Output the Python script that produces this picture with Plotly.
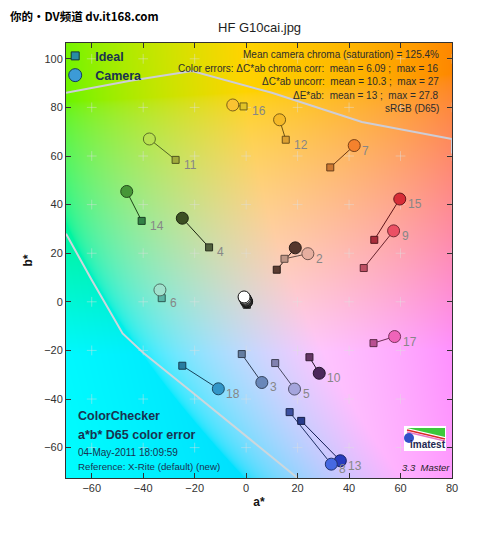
import numpy as np
import zlib, struct, base64
import plotly.graph_objects as go

# ---------------- data ----------------
patch_ids = list(range(1, 25))
ideal_a = [11.9, 14.9, -1.7, -14.4, 11.3, -32.8, 32.7, 16.9, 45.7, 24.6, -27.4, 15.4,
           21.4, -40.6, 49.8, -1.0, 49.5, -24.8, 0.0, 0.0, 0.1, 0.2, 0.2, 0.3]
ideal_b = [13.2, 17.7, -21.5, 22.4, -25.2, 1.5, 55.3, -45.4, 13.9, -22.8, 58.4, 66.7,
           -49.0, 33.3, 25.5, 80.4, -17.0, -26.3, -0.3, -0.5, -0.7, -0.9, -1.0, -1.2]
camera_a = [19.1, 24.0, 6.1, -24.8, 18.8, -33.5, 42.0, 33.1, 57.3, 28.4, -37.6, 13.0,
            36.6, -46.4, 59.7, -5.2, 57.7, -10.8, -0.8, -0.5, -0.3, -0.1, 0.1, 0.2]
camera_b = [22.2, 19.8, -33.2, 34.4, -35.9, 4.9, 64.3, -66.8, 29.2, -29.4, 67.0, 74.9,
            -65.4, 45.4, 42.3, 81.0, -14.3, -35.8, 2.0, 1.5, 1.1, 0.7, 0.3, 0.0]
ideal_rgb = [(90, 60, 50), (190, 150, 135), (100, 125, 160), (80, 95, 60), (130, 130, 175),
             (90, 180, 165), (205, 120, 50), (60, 80, 160), (190, 80, 100), (100, 55, 100),
             (160, 170, 60), (220, 160, 50), (40, 60, 140), (50, 130, 70), (170, 45, 60),
             (225, 195, 40), (185, 80, 145), (40, 125, 160), (245, 245, 245), (200, 200, 200),
             (160, 160, 160), (120, 120, 120), (85, 85, 85), (50, 50, 50)]
camera_rgb = [(85, 55, 45), (230, 175, 160), (105, 135, 185), (60, 80, 35), (165, 165, 220),
              (160, 225, 205), (245, 130, 45), (70, 105, 225), (235, 80, 100), (75, 40, 90),
              (185, 225, 80), (245, 185, 40), (40, 60, 190), (70, 150, 55), (215, 45, 55),
              (250, 195, 50), (240, 100, 185), (50, 150, 200), (255, 255, 255), (215, 215, 215),
              (170, 170, 170), (120, 120, 120), (80, 80, 80), (40, 40, 40)]
labeled_patches = list(range(2, 19))

# sRGB gamut boundary lines (a*, b*)
gamut_upper_a = [-70, -45, -21, 10, 45, 80, 80]
gamut_upper_b = [86, 91, 95, 86, 74, 67, 61]
gamut_lower_a = [-70, -60, -48, -40, -20, -5, 20]
gamut_lower_b = [28, 9, -13, -21, -38, -51, -72.5]

x_ticks = [-60, -40, -20, 0, 20, 40, 60, 80]
y_ticks = [-60, -40, -20, 0, 20, 40, 60, 80, 100]
x_range = [-70, 80]
y_range = [-72.5, 106.5]

stats_lines = ["Mean camera chroma (saturation) = 125.4%",
               "Color errors: \u0394C*ab chroma corr:  mean = 6.09 ;  max = 16",
               "\u0394C*ab uncorr:  mean = 10.3 ;  max = 27",
               "\u0394E*ab:  mean = 13 ;  max = 27.8",
               "sRGB (D65)"]
info_lines = ["<b>ColorChecker</b>", "<b>a*b* D65 color error</b>",
              "04-May-2011 18:09:59", "Reference: X-Rite (default) (new)"]

# ---------------- background (Lab -> sRGB at fixed L) ----------------
W, H = 386, 435
L = 86.0
aa = x_range[0] + (np.arange(W) + 0.5) * (x_range[1] - x_range[0]) / W
bb = y_range[1] - (np.arange(H) + 0.5) * (y_range[1] - y_range[0]) / H
A, B = np.meshgrid(aa, bb)
fy = (L + 16) / 116.0
fx = fy + A / 500.0
fz = fy - B / 200.0
def finv(t):
    d = 6 / 29
    return np.where(t > d, t ** 3, 3 * d * d * (t - 4 / 29))
X = 0.95047 * finv(fx)
Y = np.ones_like(A) * finv(np.array(fy))
Z = 1.08883 * finv(fz)
R = 3.2406 * X - 1.5372 * Y - 0.4986 * Z
G = -0.9689 * X + 1.8758 * Y + 0.0415 * Z
Bl = 0.0557 * X - 0.2040 * Y + 1.0570 * Z
rgb = np.clip(np.stack([R, G, Bl], axis=-1), 0, 1)
rgb = np.where(rgb <= 0.0031308, 12.92 * rgb, 1.055 * rgb ** (1 / 2.4) - 0.055)
img = (np.clip(rgb, 0, 1) * 255).astype(np.uint8)

def png_uri(arr):
    h, w, _ = arr.shape
    raw = b"".join(b"\x00" + arr[r].tobytes() for r in range(h))
    def chunk(t, d):
        return struct.pack(">I", len(d)) + t + d + struct.pack(">I", zlib.crc32(t + d) & 0xffffffff)
    png = (b"\x89PNG\r\n\x1a\n" + chunk(b"IHDR", struct.pack(">IIBBBBB", w, h, 8, 2, 0, 0, 0))
           + chunk(b"IDAT", zlib.compress(raw, 9)) + chunk(b"IEND", b""))
    return "data:image/png;base64," + base64.b64encode(png).decode()

def css(c, k=1.0):
    return "rgb(%d,%d,%d)" % tuple(int(v * k) for v in c)

fig = go.Figure()

# gamut boundary
fig.add_trace(go.Scatter(x=gamut_upper_a, y=gamut_upper_b, mode="lines",
                         line=dict(color="rgb(205,205,215)", width=2), showlegend=False, hoverinfo="skip"))
fig.add_trace(go.Scatter(x=gamut_lower_a, y=gamut_lower_b, mode="lines",
                         line=dict(color="rgb(205,215,220)", width=2), showlegend=False, hoverinfo="skip"))

# grid crosses
gx = [x for x in x_ticks for y in y_ticks]
gy = [y for x in x_ticks for y in y_ticks]
fig.add_trace(go.Scatter(x=gx, y=gy, mode="markers",
                         marker=dict(symbol="cross-thin", size=7,
                                     line=dict(color="rgba(225,225,225,0.45)", width=1)),
                         showlegend=False, hoverinfo="skip"))

# connecting lines
for i in range(18):
    fig.add_trace(go.Scatter(x=[ideal_a[i], camera_a[i]], y=[ideal_b[i], camera_b[i]],
                             mode="lines", line=dict(color=css(camera_rgb[i], 0.45), width=1),
                             showlegend=False, hoverinfo="skip"))

order = list(range(23, -1, -1))
fig.add_trace(go.Scatter(x=[ideal_a[i] for i in order], y=[ideal_b[i] for i in order], mode="markers",
                         marker=dict(symbol="square", size=7,
                                     color=[css(ideal_rgb[i]) for i in order],
                                     line=dict(color=[css(ideal_rgb[i], 0.5) for i in order], width=1)),
                         showlegend=False))
fig.add_trace(go.Scatter(x=[camera_a[i] for i in order], y=[camera_b[i] for i in order], mode="markers",
                         marker=dict(symbol="circle", size=12,
                                     color=[css(camera_rgb[i]) for i in order],
                                     line=dict(color=[css(camera_rgb[i], 0.5) if i < 18 else "rgb(20,20,20)"
                                                      for i in order], width=1)),
                         showlegend=False))

# legend entries
fig.add_trace(go.Scatter(x=[None], y=[None], mode="markers", name="<b>Ideal</b>",
                         marker=dict(symbol="square", size=8, color="rgb(40,140,165)",
                                     line=dict(color="rgb(20,50,60)", width=1))))
fig.add_trace(go.Scatter(x=[None], y=[None], mode="markers", name="<b>Camera</b>",
                         marker=dict(symbol="circle", size=13, color="rgb(60,155,215)",
                                     line=dict(color="rgb(20,60,90)", width=1))))

# patch labels
for p in labeled_patches:
    i = p - 1
    if camera_a[i] >= ideal_a[i]:
        lx, ly = camera_a[i], camera_b[i]
    else:
        lx, ly = ideal_a[i], ideal_b[i]
    fig.add_annotation(x=lx, y=ly, text=str(p), showarrow=False, xanchor="left", yanchor="middle",
                       xshift=6, yshift=-5, font=dict(size=12, color="rgb(135,135,135)",
                                                      family="Liberation Sans, Arial"))

FONT = "Liberation Sans, Arial"
# screen-pixel helpers (plot area on screen spans x 66..452, y 43..478)
def px(xp): return (xp - 66) / 386
def py(yp): return (478 - yp) / 435

# stats text
stat_y = [54, 68, 82, 95, 109]
for t, yy in zip(stats_lines, stat_y):
    fig.add_annotation(xref="paper", yref="paper", x=px(441), y=py(yy), text=t, showarrow=False,
                       xanchor="right", yanchor="middle",
                       font=dict(size=10, color="rgb(45,45,45)", family=FONT))

# info text
info_y = [416, 435, 452, 466]
info_size = [12.5, 12.5, 10, 9.7]
for t, yy, s in zip(info_lines, info_y, info_size):
    fig.add_annotation(xref="paper", yref="paper", x=px(76), y=py(yy), text=t, showarrow=False,
                       xanchor="left", yanchor="middle",
                       font=dict(size=s, color="rgb(25,50,80)", family=FONT))

# imatest logo (decoration)
shapes = [dict(type="rect", xref="paper", yref="paper", x0=px(404), x1=px(446), y0=py(451), y1=py(426),
               fillcolor="white", line=dict(width=0), layer="above")]
shapes.append(dict(type="path", xref="paper", yref="paper",
                   path="M %f,%f L %f,%f L %f,%f Z" % (px(407), py(428), px(445), py(428), px(445), py(437)),
                   fillcolor="rgb(60,200,60)", line=dict(width=0), layer="above"))
shapes.append(dict(type="line", xref="paper", yref="paper", x0=px(407), y0=py(430), x1=px(445), y1=py(439),
                   line=dict(color="rgb(220,40,40)", width=1.5), layer="above"))
shapes.append(dict(type="line", xref="paper", yref="paper", x0=px(407), y0=py(432), x1=px(445), y1=py(441),
                   line=dict(color="rgb(230,120,200)", width=1.5), layer="above"))
shapes.append(dict(type="circle", xref="paper", yref="paper", x0=px(404), x1=px(414), y0=py(443), y1=py(433),
                   fillcolor="rgb(50,80,200)", line=dict(width=0), layer="above"))
# zero dotted lines
shapes.append(dict(type="line", xref="x", yref="paper", x0=0, x1=0, y0=0, y1=1,
                   line=dict(color="rgba(130,130,130,0.8)", width=1, dash="dot"), layer="below"))
shapes.append(dict(type="line", xref="paper", yref="y", x0=0, x1=1, y0=0, y1=0,
                   line=dict(color="rgba(130,130,130,0.8)", width=1, dash="dot"), layer="below"))

fig.add_annotation(xref="paper", yref="paper", x=px(428), y=py(444), text="<b>imatest</b>", showarrow=False,
                   xanchor="center", yanchor="middle", font=dict(size=10, color="rgb(30,40,80)", family=FONT))
fig.add_annotation(xref="paper", yref="paper", x=px(426), y=py(467), text="<i>3.3  Master</i>", showarrow=False,
                   xanchor="center", yanchor="middle", font=dict(size=9.5, color="rgb(30,30,40)", family=FONT))

# title and watermark
fig.add_annotation(xref="paper", yref="paper", x=px(259), y=py(27), text="HF G10cai.jpg", showarrow=False,
                   xanchor="center", yanchor="middle", font=dict(size=13, color="rgb(30,30,30)", family=FONT))
fig.add_annotation(xref="paper", yref="paper", x=px(8), y=py(16), text="<b>你的·DV频道 dv.it168.com</b>",
                   showarrow=False, xanchor="left", yanchor="middle",
                   font=dict(size=11.5, color="black", family="Noto Sans CJK SC"))

# page body has an 8px margin: figure origin sits at screen (8, 8)
fig.update_layout(
    width=500, height=538,
    margin=dict(l=58, r=56, t=35, b=68, autoexpand=False),
    paper_bgcolor="white", plot_bgcolor="rgba(0,0,0,0)",
    images=[dict(source=png_uri(img), xref="x", yref="y", x=x_range[0], y=y_range[1],
                 sizex=x_range[1] - x_range[0], sizey=y_range[1] - y_range[0],
                 sizing="stretch", layer="below")],
    shapes=shapes,
    showlegend=True,
    legend=dict(x=-0.028, y=1.004, xanchor="left", yanchor="top", bgcolor="rgba(0,0,0,0)",
                font=dict(size=12.5, color="rgb(25,50,80)", family=FONT), tracegroupgap=2,
                itemsizing="trace"),
    xaxis=dict(range=x_range, tickvals=x_ticks, ticks="inside", ticklen=5, showgrid=False, automargin=False,
               zeroline=False, showline=True, linecolor="rgb(50,50,50)", linewidth=1, mirror="allticks",
               tickcolor="rgb(50,50,50)", tickfont=dict(size=11, color="rgb(50,50,50)", family=FONT),
               title=dict(text="<b>a*</b>", font=dict(size=12, color="rgb(20,20,20)", family=FONT), standoff=4)),
    yaxis=dict(range=y_range, tickvals=y_ticks, ticks="inside", ticklen=5, showgrid=False, automargin=False,
               zeroline=False, showline=True, linecolor="rgb(50,50,50)", linewidth=1, mirror="allticks",
               tickcolor="rgb(50,50,50)", tickfont=dict(size=11, color="rgb(50,50,50)", family=FONT),
               title=dict(text="<b>b*</b>", font=dict(size=12, color="rgb(20,20,20)", family=FONT), standoff=8)),
)

fig.write_html("out.html")
